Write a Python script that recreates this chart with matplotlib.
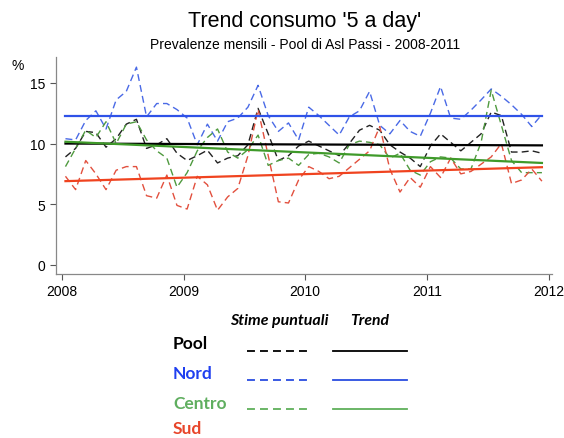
import numpy as np
import matplotlib.pyplot as plt
from matplotlib.lines import Line2D

# Monthly estimates, Jan 2008 - Dec 2011
months = np.arange(48)

pool = [8.9, 9.6, 11.0, 10.9, 9.7, 10.4, 11.6, 12.0, 9.6, 9.9, 10.4, 9.2,
        8.6, 9.0, 9.45, 8.4, 8.8, 9.0, 9.9, 12.9, 10.8, 8.6, 9.0, 9.8,
        10.2, 9.8, 9.4, 9.0, 10.0, 11.1, 11.5, 11.1, 9.9, 9.3, 8.8, 8.1,
        9.8, 10.8, 10.1, 9.4, 10.1, 10.8, 12.6, 12.3, 9.3, 9.3, 9.4, 9.2]

nord = [10.4, 10.3, 11.9, 12.7, 11.2, 13.6, 14.3, 16.3, 12.2, 13.3, 13.3, 12.8,
        12.1, 9.9, 11.6, 10.2, 11.8, 12.1, 13.0, 14.8, 12.3, 11.0, 11.7, 10.3,
        13.0, 12.3, 11.5, 10.7, 12.2, 12.7, 14.3, 11.5, 10.8, 11.9, 11.0, 10.6,
        12.5, 14.7, 12.1, 12.0, 12.75, 13.6, 14.5, 13.9, 13.2, 12.4, 11.4, 12.4]

centro = [8.1, 9.6, 11.1, 10.5, 11.8, 10.0, 11.6, 11.8, 10.3, 9.4, 8.8, 6.4,
          7.6, 9.4, 10.5, 11.2, 9.3, 8.8, 9.5, 10.7, 8.2, 8.6, 8.8, 8.2,
          9.1, 9.2, 8.9, 8.4, 9.9, 10.2, 10.1, 9.9, 8.8, 9.2, 7.8, 7.4,
          8.5, 8.9, 8.8, 7.9, 7.9, 10.1, 14.4, 11.5, 8.6, 7.6, 7.6, 7.6]

sud = [7.3, 6.2, 8.6, 7.5, 6.2, 7.8, 8.1, 8.1, 5.7, 5.5, 7.4, 4.9,
       4.6, 7.3, 6.6, 4.5, 5.6, 6.3, 9.0, 12.8, 9.0, 5.2, 5.1, 7.0,
       8.1, 7.7, 7.1, 7.3, 8.0, 8.7, 9.4, 11.4, 7.9, 6.0, 7.2, 6.4,
       8.1, 7.2, 8.8, 7.5, 7.7, 8.3, 8.9, 10.0, 6.7, 7.0, 7.9, 6.9]

# trend lines: value at first and last month
trend_pool = [10.0, 9.85]
trend_nord = [12.25, 12.25]
trend_centro = [10.15, 8.4]
trend_sud = [6.9, 8.05]

names = ["Pool", "Nord", "Centro", "Sud"]
series = [pool, nord, centro, sud]
trends = [trend_pool, trend_nord, trend_centro, trend_sud]
dash_colors = ["#222222", "#4a6ae6", "#4f9a3f", "#e2503e"]
trend_colors = ["#000000", "#2f52e8", "#3f9a2a", "#f0431f"]
label_colors = ["#000000", "#1f3ff0", "#5fae5f", "#e8452a"]
legend_colors = ["#000000", "#2a4de0", "#5fb05a", "#e8452a"]

t = 2008 + (months + 0.35) / 12.0

plt.rcParams['font.family'] = ['Liberation Sans', 'DejaVu Sans']

fig = plt.figure(figsize=(5.64, 4.39), dpi=100)
ax = fig.add_axes([0.099, 0.374, 0.88, 0.494])

for vals, col in zip(series, dash_colors):
    ax.plot(t, vals, color=col, linewidth=1.0, linestyle=(0, (5, 3)))

for tr, col in zip(trends, trend_colors):
    ax.plot([t[0], t[-1]], tr, color=col, linewidth=1.6)

ax.set_xlim(2007.95, 2012.03)
ax.set_ylim(-0.74, 17.14)
ax.set_xticks([2008, 2009, 2010, 2011, 2012])
ax.set_yticks([0, 5, 10, 15])
ax.tick_params(direction='out', length=4, width=0.8, colors='#555555',
               labelcolor='black', labelsize=10)
for s in ['top', 'right']:
    ax.spines[s].set_visible(False)
for s in ['left', 'bottom']:
    ax.spines[s].set_color('#888888')
    ax.spines[s].set_linewidth(0.9)

fig.text(0.021, 1 - 66 / 439, "%", fontsize=10, va='center')
fig.text(0.541, 1 - 22 / 439, "Trend consumo '5 a day'", ha='center',
         va='center', fontsize=15.5)
fig.text(0.541, 1 - 45 / 439, "Prevalenze mensili - Pool di Asl Passi - 2008-2011",
         ha='center', va='center', fontsize=10)

# custom legend below the plot
leg_font = ['Lato', 'DejaVu Sans']
fig.text(279 / 564, 1 - 321 / 439, "Stime puntuali", ha='center', va='center',
         fontsize=11.5, style='italic', fontweight='bold', family=leg_font)
fig.text(370 / 564, 1 - 321 / 439, "Trend", ha='center', va='center',
         fontsize=11.3, style='italic', fontweight='bold', family=leg_font)

label_y = [344, 374, 404, 429]
line_y = [352, 381, 410, 439.5]
for name, ly, lny, lc, dc, tc in zip(names, label_y, line_y, label_colors,
                                     legend_colors, legend_colors):
    fig.text(173 / 564, 1 - ly / 439, name, ha='left', va='center',
             fontsize=12.5, fontweight='bold', color=lc, family=leg_font)
    yy = 1 - lny / 439
    fig.add_artist(Line2D([247 / 564, 310 / 564], [yy, yy], color=dc,
                          linewidth=1.3, linestyle=(0, (4.4, 2.8))))
    fig.add_artist(Line2D([333 / 564, 407 / 564], [yy, yy], color=tc,
                          linewidth=1.3))

fig.savefig("out.png", dpi=100)
